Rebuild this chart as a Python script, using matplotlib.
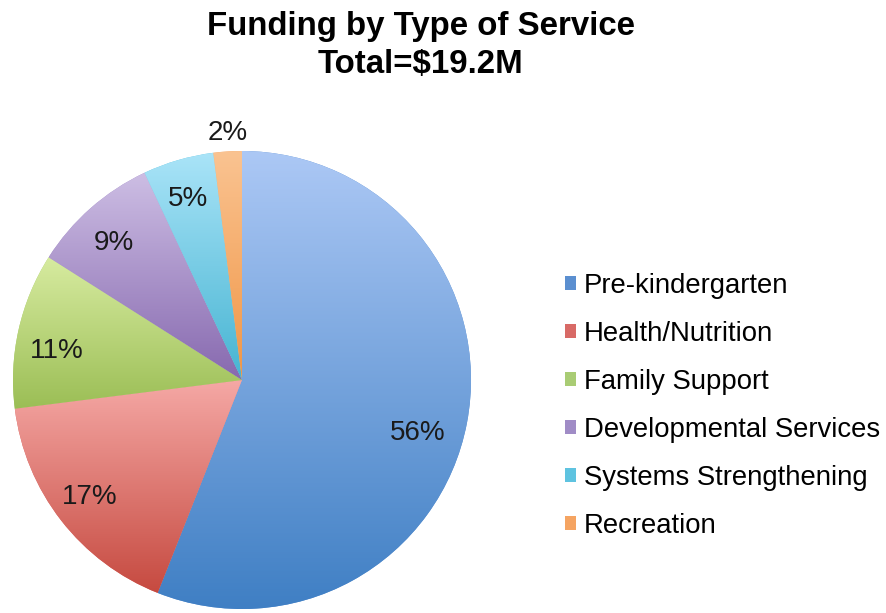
import numpy as np
import matplotlib
matplotlib.use("Agg")
import matplotlib.pyplot as plt
from matplotlib.colors import to_rgb
from matplotlib.patches import Patch

plt.rcParams['font.family'] = ['Liberation Sans', 'DejaVu Sans']

categories = ["Pre-kindergarten", "Health/Nutrition", "Family Support",
              "Developmental Services", "Systems Strengthening", "Recreation"]
values = [56, 17, 11, 9, 5, 2]
top_colors = ["#acc8f5", "#f5a8a5", "#d7eba0", "#cdbee4", "#aae4f8", "#fac391"]
bottom_colors = ["#3f7fc4", "#c64a40", "#9bbe55", "#8769af", "#46b4d2", "#f09646"]
legend_colors = ["#5b8fd0", "#d86a66", "#a9cc74", "#a08cc6", "#5ec3e0", "#f5a462"]
# label placement (fraction of radius, x/y) as seen in the reference
label_pos = [(0.769, -0.231), (-0.664, -0.511), (-0.810, 0.127),
             (-0.560, 0.600), (-0.236, 0.790), (-0.061, 1.079)]
title = "Funding by Type of Service\nTotal=$19.2M"

W, H = 886, 613
fig = plt.figure(figsize=(W / 100, H / 100), dpi=100)
cx, cy, R = 242, 380, 229
ax = fig.add_axes([(cx - R) / W, (H - cy - R) / H, 2 * R / W, 2 * R / H])

wedges, texts, autotexts = ax.pie(
    values, startangle=90, counterclock=False, colors=legend_colors,
    autopct='%1.0f%%', pctdistance=0.82,
    wedgeprops=dict(linewidth=0),
    textprops=dict(fontsize=20, color="#1a1a1a"))

for w, ct, cb in zip(wedges, top_colors, bottom_colors):
    ext = w.get_path().get_extents()
    t = np.array(to_rgb(ct)); b = np.array(to_rgb(cb))
    f = np.linspace(0, 1, 256)[:, None, None]
    grad = t[None, None, :] * (1 - f) + b[None, None, :] * f
    im = ax.imshow(grad, extent=[ext.x0, ext.x1, ext.y0, ext.y1], origin='upper',
                   aspect='auto', interpolation='bilinear', zorder=1.5)
    im.set_clip_path(w)

for t_, p in zip(autotexts, label_pos):
    t_.set_position(p)
    t_.set_zorder(4)

ax.set_xlim(-1, 1)
ax.set_ylim(-1, 1)
ax.set_aspect('auto')
ax.axis('off')

fig.text(421 / W, 1 - 45.5 / H, title, ha='center', va='center', fontsize=23.8,
         fontweight='bold', linespacing=1.28, parse_math=False)

handles = [Patch(facecolor=c, edgecolor='none') for c in legend_colors]
fig.legend(handles, categories, loc='upper left',
           bbox_to_anchor=(565 / W, 1 - 273 / H), frameon=False,
           fontsize=19.8, handlelength=0.40, handleheight=0.40,
           handletextpad=0.3, labelspacing=0.80, borderpad=0, borderaxespad=0)

fig.savefig("out.png", dpi=100)
